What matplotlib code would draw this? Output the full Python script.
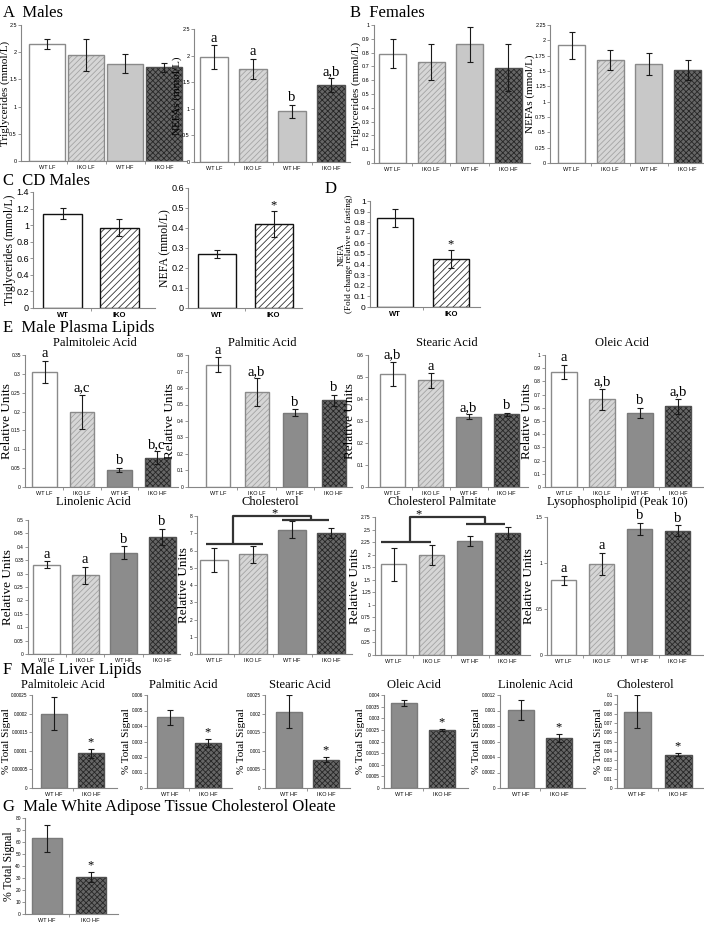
import numpy as np
import matplotlib
matplotlib.use("Agg")
import matplotlib.pyplot as plt

W, H = 704, 925
SERIF = "Liberation Serif"
SANS = "Liberation Sans"

plt.rcParams["hatch.linewidth"] = 0.6

# ---- data ----
groups4 = ["WT LF", "IKO LF", "WT HF", "IKO HF"]
groups_cd = ["WT", "IKO"]
groups_hf = ["WT HF", "IKO HF"]

# A males
a_tg = [2.15, 1.95, 1.79, 1.72]
a_tg_err = [0.09, 0.30, 0.17, 0.085]
a_nefa = [1.97, 1.75, 0.95, 1.44]
a_nefa_err = [0.23, 0.19, 0.13, 0.13]
a_nefa_marks = ["a", "a", "b", "a,b"]

# B females
b_tg = [0.79, 0.73, 0.86, 0.69]
b_tg_err = [0.105, 0.13, 0.127, 0.17]
b_nefa = [1.92, 1.68, 1.61, 1.52]
b_nefa_err = [0.22, 0.165, 0.18, 0.165]

# C CD males, D
c_tg = [1.14, 0.97]
c_tg_err = [0.065, 0.10]
c_nefa = [0.27, 0.42]
c_nefa_err = [0.022, 0.063]
d_fold = [0.84, 0.45]
d_fold_err = [0.085, 0.085]

# E male plasma lipids
e_palmitoleic = [0.305, 0.20, 0.045, 0.078]
e_palmitoleic_err = [0.03, 0.045, 0.006, 0.017]
e_palmitoleic_marks = ["a", "a,c", "b", "b,c"]
e_palmitic = [0.74, 0.575, 0.45, 0.525]
e_palmitic_err = [0.045, 0.083, 0.022, 0.035]
e_palmitic_marks = ["a", "a,b", "b", "b"]
e_stearic = [0.515, 0.485, 0.32, 0.33]
e_stearic_err = [0.055, 0.033, 0.01, 0.008]
e_stearic_marks = ["a,b", "a", "a,b", "b"]
e_oleic = [0.87, 0.665, 0.56, 0.61]
e_oleic_err = [0.055, 0.08, 0.04, 0.06]
e_oleic_marks = ["a", "a,b", "b", "a,b"]
e_linolenic = [0.333, 0.293, 0.378, 0.438]
e_linolenic_err = [0.013, 0.033, 0.025, 0.03]
e_linolenic_marks = ["a", "a", "b", "b"]
e_chol = [5.45, 5.77, 7.2, 7.0]
e_chol_err = [0.72, 0.48, 0.5, 0.3]
e_cholpalm = [1.81, 1.99, 2.27, 2.43]
e_cholpalm_err = [0.33, 0.195, 0.1, 0.12]
e_lyso = [0.81, 0.99, 1.37, 1.35]
e_lyso_err = [0.05, 0.12, 0.07, 0.06]
e_lyso_marks = ["a", "a", "b", "b"]

# F male liver lipids (% total signal)
f_palmitoleic = [0.0002, 0.000093]
f_palmitoleic_err = [0.000045, 0.000013]
f_palmitic = [0.00455, 0.0029]
f_palmitic_err = [0.0005, 0.00027]
f_stearic = [0.00205, 0.00076]
f_stearic_err = [0.00045, 0.00007]
f_oleic = [0.00365, 0.0025]
f_oleic_err = [0.00012, 0.00005]
f_linolenic = [0.00101, 0.00065]
f_linolenic_err = [0.00013, 0.00005]
f_chol = [0.082, 0.036]
f_chol_err = [0.018, 0.002]
hf_marks = ["", "*"]

# G white adipose tissue cholesterol oleate
g_cholole = [63, 31]
g_cholole_err = [11, 4]

STYLES = {
    "white": dict(fc="white", hatch=None, hc="white", ec="#8a8a8a"),
    "light": dict(fc="#d6d6d6", hatch="//////", hc="#a4a4a4", ec="#8a8a8a"),
    "pale": dict(fc="#c8c8c8", hatch=None, hc="#c8c8c8", ec="#8a8a8a"),
    "mid": dict(fc="#8c8c8c", hatch=None, hc="#8c8c8c", ec="#7a7a7a"),
    "dark": dict(fc="#666666", hatch="xxxxxx", hc="#262626", ec="#505050"),
    "cd_wt": dict(fc="white", hatch=None, hc="white", ec="#111111"),
    "cd_ko": dict(fc="white", hatch="/////", hc="#333333", ec="#111111"),
}
AB_STYLES = ["white", "light", "pale", "dark"]
E_STYLES = ["white", "light", "mid", "dark"]
HF_STYLES = ["mid", "dark"]
CD_STYLES = ["cd_wt", "cd_ko"]

fig = plt.figure(figsize=(W / 100, H / 100), dpi=100)
all_axes = []


def fmt(v):
    return np.format_float_positional(round(float(v), 7), trim="-")


def panel(box, cats, vals, errs, styles, ymax, ystep, ylabel, marks=None,
          title=None, title_xy=None, ylabel_size=8, tick_size=4,
          xtick_size=4, mark_size=10.5, bar_lw=1.0, xtick_bold=False):
    l, t, r, b, c0, step, bw = box
    ax = fig.add_axes([l / W, 1 - b / H, (r - l) / W, (b - t) / H])
    x = np.arange(len(cats))
    w = bw / step
    for i in x:
        st = STYLES[styles[i]]
        ax.bar(i, vals[i], w, color=st["fc"], hatch=st["hatch"],
               edgecolor=st["hc"], linewidth=0)
        ax.bar(i, vals[i], w, fill=False, edgecolor=st["ec"], linewidth=bar_lw)
    ax.errorbar(x, vals, yerr=errs, fmt="none", ecolor="#1a1a1a",
                elinewidth=0.8, capsize=2, capthick=0.8)

    ax.set_xlim((l - c0) / step, (r - c0) / step)
    ax.set_ylim(0, ymax)
    ticks = np.arange(0, ymax + ystep * 0.5, ystep)
    ax.set_yticks(ticks)
    ax.set_yticklabels([fmt(v) for v in ticks], fontsize=tick_size, family=SANS)
    ax.set_xticks(x)
    ax.set_xticklabels(cats, fontsize=xtick_size, family=SANS,
                       fontweight="bold" if xtick_bold else "normal")
    ax.set_xticks(np.arange(len(cats) - 1) + 0.5, minor=True)
    ax.tick_params(axis="x", which="major", length=0, pad=3)
    ax.tick_params(axis="x", which="minor", length=2.5, width=0.6, color="#868686")
    ax.tick_params(axis="y", length=2, width=0.6, color="#868686", pad=1)
    for s in ["top", "right"]:
        ax.spines[s].set_visible(False)
    for s in ["left", "bottom"]:
        ax.spines[s].set_color("#868686")
        ax.spines[s].set_linewidth(0.8)
    ax.set_ylabel(ylabel, fontsize=ylabel_size, family=SERIF, linespacing=1.0)

    if marks:
        for i, m in enumerate(marks):
            if m:
                ax.annotate(m, (i, vals[i] + errs[i]), xytext=(0, 0.3),
                            textcoords="offset points", ha="center", va="bottom",
                            fontsize=mark_size, family=SERIF, annotation_clip=False)
    if title:
        fig.text(title_xy[0] / W, 1 - title_xy[1] / H, title, ha="center",
                 va="center", fontsize=9, family=SERIF)
    all_axes.append(ax)
    return ax


def bracket(ax, left, right, top, star_x):
    kw = dict(color="#333333", lw=1.6, clip_on=False, solid_capstyle="butt")
    lx0, lx1, lxm, ly = left
    rx0, rx1, rxm, ry = right
    ax.plot([lx0, lx1], [ly, ly], **kw)
    ax.plot([rx0, rx1], [ry, ry], **kw)
    ax.plot([lxm, lxm, rxm, rxm], [ly, top, top, ry], **kw)
    ax.annotate("*", (star_x, top), xytext=(0, 6.5), textcoords="offset points",
                ha="center", va="top", fontsize=9, family=SERIF,
                annotation_clip=False)


def label(x, y, text):
    fig.text(x / W, 1 - y / H, text, ha="left", va="center", fontsize=12,
             family=SERIF)


# ---- A / B ----
label(3, 13, "A  Males")
label(350, 13, "B  Females")
panel((21, 25, 186, 161, 47, 39, 36), groups4, a_tg, a_tg_err, AB_STYLES,
      2.5, 0.5, "Triglycerides (mmol/L)")
panel((194, 29, 350, 162, 214, 39, 28), groups4, a_nefa, a_nefa_err, AB_STYLES,
      2.5, 0.5, "NEFAs (mmol/L)", marks=a_nefa_marks)
panel((374, 25, 530, 163, 392.5, 38.5, 27), groups4, b_tg, b_tg_err, AB_STYLES,
      1.0, 0.1, "Triglycerides (mmol/L)")
panel((550, 25, 703, 163, 571.5, 38.7, 27), groups4, b_nefa, b_nefa_err,
      AB_STYLES, 2.25, 0.25, "NEFAs (mmol/L)")

# ---- C / D ----
label(3, 181, "C  CD Males")
fig.text(325 / W, 1 - 189 / H, "D", ha="left", va="center", fontsize=12,
         family=SERIF)
panel((33, 192, 155, 308, 62.5, 56.5, 39), groups_cd, c_tg, c_tg_err, CD_STYLES,
      1.4, 0.2, "Triglycerides (mmol/L)", ylabel_size=8.5, tick_size=6.5,
      xtick_size=5.5, xtick_bold=True)
panel((188, 188, 302, 308, 217, 56.5, 38), groups_cd, c_nefa, c_nefa_err,
      CD_STYLES, 0.6, 0.1, "NEFA (mmol/L)", marks=["", "*"], ylabel_size=8.5,
      tick_size=6.5, xtick_size=5.5, mark_size=9, xtick_bold=True)
panel((370, 201, 480, 307, 395, 56, 36), groups_cd, d_fold, d_fold_err,
      CD_STYLES, 1.0, 0.1, "NEFA\n(Fold change relative to fasting)",
      marks=["", "*"], ylabel_size=6.6, tick_size=6, xtick_size=5.5, mark_size=9,
      xtick_bold=True)

# ---- E ----
label(3, 328, "E  Male Plasma Lipids")
EL = 9.5
panel((25, 355, 178, 487, 44.5, 37.5, 25), groups4, e_palmitoleic,
      e_palmitoleic_err, E_STYLES, 0.35, 0.05, "Relative Units",
      marks=e_palmitoleic_marks, title="Palmitoleic Acid", title_xy=(95, 343),
      ylabel_size=EL, tick_size=3.5)
panel((188, 355, 352, 487, 218, 38.5, 24), groups4, e_palmitic, e_palmitic_err,
      E_STYLES, 0.8, 0.1, "Relative Units", marks=e_palmitic_marks,
      title="Palmitic Acid", title_xy=(262, 343), ylabel_size=EL, tick_size=3.5)
panel((368, 355, 528, 487, 392.5, 38, 25), groups4, e_stearic, e_stearic_err,
      E_STYLES, 0.6, 0.1, "Relative Units", marks=e_stearic_marks,
      title="Stearic Acid", title_xy=(447, 343), ylabel_size=EL, tick_size=3.5)
panel((545, 355, 703, 487, 564, 38, 26), groups4, e_oleic, e_oleic_err,
      E_STYLES, 1.0, 0.1, "Relative Units", marks=e_oleic_marks,
      title="Oleic Acid", title_xy=(622, 343), ylabel_size=EL, tick_size=3.5)

panel((28, 520, 180, 654, 46.5, 38.5, 27), groups4, e_linolenic,
      e_linolenic_err, E_STYLES, 0.5, 0.05, "Relative Units",
      marks=e_linolenic_marks, title="Linolenic Acid", title_xy=(93, 502),
      ylabel_size=EL, tick_size=3.5)
ax = panel((197, 516, 352, 654, 214, 39, 28), groups4, e_chol, e_chol_err,
           E_STYLES, 8, 1, "Relative Units", title="Cholesterol",
           title_xy=(270, 502), ylabel_size=EL, tick_size=3.5)
bracket(ax, (-0.2, 1.25, 0.49, 6.38), (1.74, 2.95, 2.49, 7.77), 8.0, 1.54)
ax = panel((375, 517, 530, 655, 393.5, 38, 25), groups4, e_cholpalm,
           e_cholpalm_err, E_STYLES, 2.75, 0.25, "Relative Units",
           title="Cholesterol Palmitate", title_xy=(442, 502), ylabel_size=EL,
           tick_size=3.5)
bracket(ax, (-0.33, 0.99, 0.43, 2.25), (1.9, 2.93, 2.4, 2.61), 2.75, 0.65)
panel((547, 517, 703, 655, 563.5, 38, 25), groups4, e_lyso, e_lyso_err,
      E_STYLES, 1.5, 0.5, "Relative Units", marks=e_lyso_marks,
      title="Lysophospholipid (Peak 10)", title_xy=(617, 502), ylabel_size=EL,
      tick_size=3.5)

# ---- F ----
label(3, 670, "F  Male Liver Lipids")
f_specs = [
    ((32, 695, 117, 788, 54, 37, 26), f_palmitoleic, f_palmitoleic_err, 0.00025, 0.00005, "Palmitoleic Acid", 63),
    ((147, 695, 232, 788, 170, 38, 26), f_palmitic, f_palmitic_err, 0.006, 0.001, "Palmitic Acid", 183),
    ((265, 695, 350, 788, 288.5, 37.5, 26), f_stearic, f_stearic_err, 0.0025, 0.0005, "Stearic Acid", 300),
    ((384, 695, 468, 788, 404, 38, 26), f_oleic, f_oleic_err, 0.004, 0.0005, "Oleic Acid", 414),
    ((500, 695, 585, 788, 521, 38, 26), f_linolenic, f_linolenic_err, 0.0012, 0.0002, "Linolenic Acid", 535),
    ((617, 695, 703, 788, 637, 41, 27), f_chol, f_chol_err, 0.1, 0.01, "Cholesterol", 645),
]
for box, vals, errs, ymax, ystep, title, tx in f_specs:
    panel(box, groups_hf, vals, errs, HF_STYLES, ymax, ystep, "% Total Signal",
          marks=hf_marks, title=title, title_xy=(tx, 685), ylabel_size=8,
          tick_size=3.3, mark_size=9)

# ---- G ----
label(3, 807, "G  Male White Adipose Tissue Cholesterol Oleate")
panel((25, 818, 118, 914, 47, 43.5, 30), groups_hf, g_cholole, g_cholole_err,
      HF_STYLES, 80, 10, "% Total Signal", marks=hf_marks, ylabel_size=8.5,
      tick_size=3.5, mark_size=9)

# put every y label just left of its tick labels, without leaving the figure
fig.canvas.draw()
renderer = fig.canvas.get_renderer()
for ax in all_axes:
    tick_left = min(t.get_window_extent(renderer).x0
                    for t in ax.get_yticklabels() if t.get_text())
    lab_w = ax.yaxis.label.get_window_extent(renderer).width
    right = max(tick_left - 0.5, lab_w + 0.5)
    ax.yaxis.set_label_coords(ax.transAxes.inverted().transform((right, 0))[0], 0.5)

fig.savefig("out.png", dpi=100)
